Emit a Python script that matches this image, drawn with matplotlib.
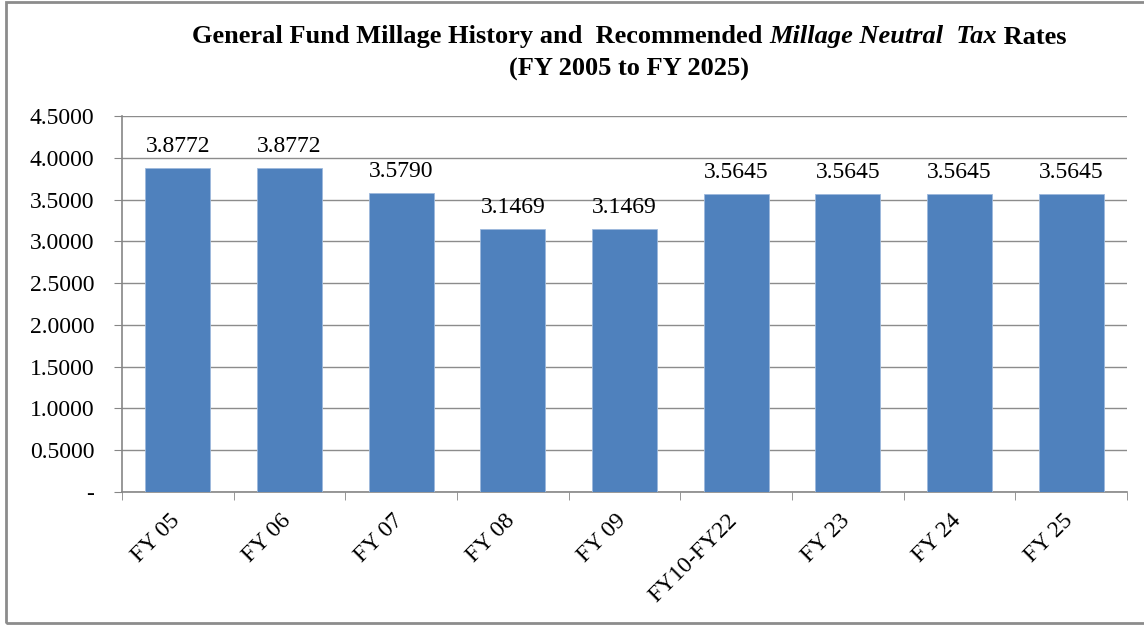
import matplotlib
matplotlib.use('Agg')
import matplotlib.pyplot as plt
import matplotlib.transforms as mtransforms
import numpy as np
from matplotlib.patches import Rectangle

# data
categories = ['FY 05', 'FY 06', 'FY 07', 'FY 08', 'FY 09', 'FY10-FY22', 'FY 23', 'FY 24', 'FY 25']
millage = [3.8772, 3.8772, 3.5790, 3.1469, 3.1469, 3.5645, 3.5645, 3.5645, 3.5645]
y_ticks = [0, 0.5, 1.0, 1.5, 2.0, 2.5, 3.0, 3.5, 4.0, 4.5]

plt.rcParams['font.family'] = ['Liberation Serif', 'DejaVu Serif']

W, H = 1144, 625
fig = plt.figure(figsize=(W / 100, H / 100), dpi=100)
ax = fig.add_axes([122 / W, 1 - 492 / H, (1127 - 122) / W, (492 - 116) / H])

x = np.arange(len(categories))
bars = ax.bar(x, millage, width=0.58, color='#4F81BD', edgecolor='#9DB9DC', linewidth=0.6, zorder=3)

for b, v in zip(bars, millage):
    ax.annotate('%.4f' % v, (b.get_x() + b.get_width() / 2, v), xytext=(0, 8),
                textcoords='offset points', ha='center', va='bottom', fontsize=17, zorder=4)

ax.set_xlim(-0.5, len(categories) - 0.5)
ax.set_ylim(0, 4.5)
ax.set_yticks(y_ticks)
ax.set_yticklabels(['-' if t == 0 else '%.4f' % t for t in y_ticks], fontsize=17)
ax.yaxis.grid(True, color='#8C8C8C', linewidth=1, zorder=0)

# category labels at centers, tick marks at boundaries
ax.set_xticks(x)
ax.set_xticklabels(categories, rotation=45, ha='right', rotation_mode='anchor', fontsize=17)
ax.tick_params(axis='x', which='major', length=0, pad=13)
ax.set_xticks(np.arange(-0.5, len(categories)), minor=True)
ax.tick_params(axis='x', which='minor', length=6, color='#868686', direction='out')
ax.tick_params(axis='y', length=6, color='#868686', direction='out', pad=14)
shift = mtransforms.ScaledTranslation(-9 / 100, 0, fig.dpi_scale_trans)
for lab in ax.get_xticklabels():
    lab.set_transform(lab.get_transform() + shift)

for side in ['top', 'right']:
    ax.spines[side].set_visible(False)
for side in ['left', 'bottom']:
    ax.spines[side].set_color('#868686')
    ax.spines[side].set_linewidth(1.2)

# outer frame
fig.patches.append(Rectangle((6 / W, 2 / H), 1.2, (623 - 2) / H, transform=fig.transFigure,
                             fill=False, edgecolor='#8C8C8C', linewidth=2))

# title, first line has an italic part
renderer = fig.canvas.get_renderer()
pieces = [('General Fund Millage History and  Recommended ', 'normal'),
          ('Millage Neutral  Tax', 'italic'),
          (' Rates', 'normal')]
texts = []
for s, st in pieces:
    t = fig.text(0, 1 - 37 / H, s, fontsize=19, fontweight='bold', style=st, va='center', ha='left')
    texts.append(t)
widths = [t.get_window_extent(renderer).width for t in texts]
xpos = 629 - sum(widths) / 2
for t, w in zip(texts, widths):
    t.set_x(xpos / W)
    xpos += w
fig.text(629 / W, 1 - 69 / H, '(FY 2005 to FY 2025)', fontsize=19, fontweight='bold',
         ha='center', va='center')

fig.savefig('out.png', dpi=100)
